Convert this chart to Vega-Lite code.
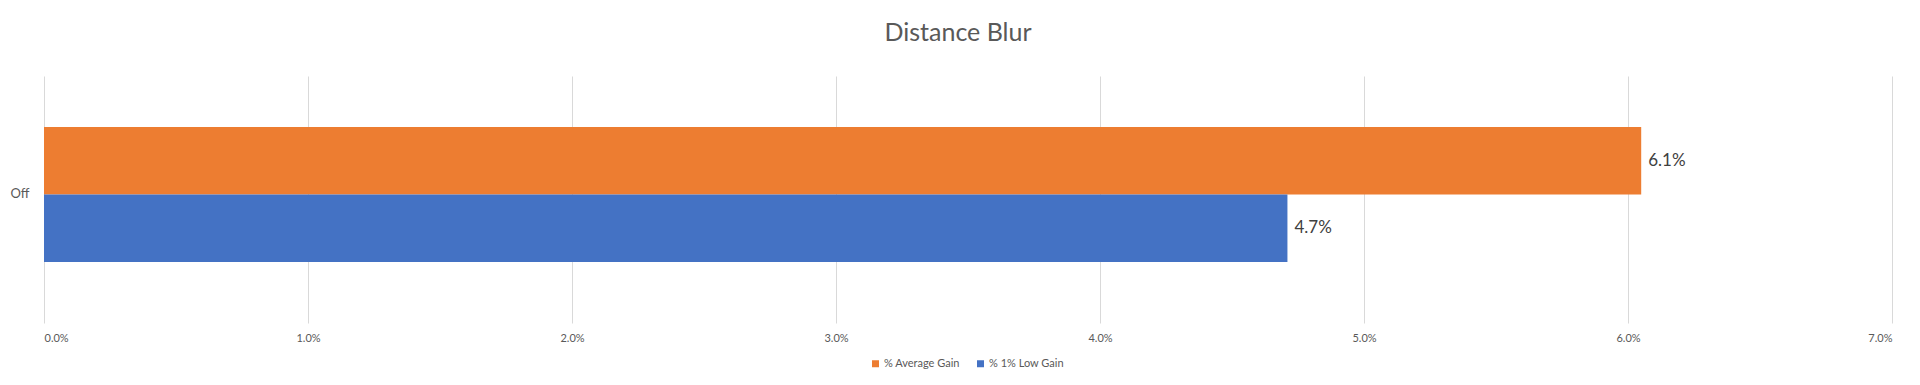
{
  "$schema": "https://vega.github.io/schema/vega-lite/v6.json",
  "width": 1848,
  "height": 247,
  "autosize": "none",
  "padding": {"left": 44, "top": 76, "right": 28, "bottom": 62},
  "background": "white",
  "config": {
    "font": "Lato",
    "view": {"stroke": null}
  },
  "title": {
    "text": "Distance Blur",
    "font": "Lato",
    "fontSize": 25,
    "fontWeight": "normal",
    "color": "#595959",
    "anchor": "middle",
    "offset": 30,
    "dx": -10
  },
  "data": {
    "values": [
      {"cat": "Off", "series": "% Average Gain", "value": 0.0605, "label": "6.1%"},
      {"cat": "Off", "series": "% 1% Low Gain", "value": 0.0471, "label": "4.7%"}
    ]
  },
  "encoding": {
    "y": {
      "field": "cat",
      "type": "nominal",
      "title": null,
      "scale": {"paddingInner": 0, "paddingOuter": 0.4148, "align": 0.455},
      "axis": {
        "domain": false,
        "ticks": false,
        "grid": false,
        "labelFontSize": 13,
        "labelColor": "#595959",
        "labelPadding": 15
      }
    },
    "yOffset": {
      "field": "series",
      "type": "nominal",
      "sort": ["% Average Gain", "% 1% Low Gain"],
      "scale": {"paddingInner": 0, "paddingOuter": 0}
    },
    "x": {
      "field": "value",
      "type": "quantitative",
      "scale": {"domain": [0, 0.07], "nice": false},
      "axis": {
        "values": [0, 0.01, 0.02, 0.03, 0.04, 0.05, 0.06, 0.07],
        "format": ".1%",
        "title": null,
        "domain": false,
        "ticks": false,
        "grid": true,
        "gridColor": "#d9d9d9",
        "gridWidth": 1,
        "labelFontSize": 11,
        "labelColor": "#595959",
        "labelPadding": 9
      }
    }
  },
  "layer": [
    {
      "mark": {"type": "bar"},
      "encoding": {
        "color": {
          "field": "series",
          "type": "nominal",
          "sort": ["% Average Gain", "% 1% Low Gain"],
          "scale": {"range": ["#ED7D31", "#4472C4"]},
          "legend": {
            "orient": "none",
            "legendX": 826,
            "legendY": 282,
            "direction": "horizontal",
            "title": null,
            "symbolType": "square",
            "symbolSize": 49,
            "symbolStrokeWidth": 0,
            "labelFontSize": 11,
            "labelColor": "#595959",
            "labelOffset": 3,
            "columnPadding": 15,
            "padding": 0
          }
        }
      }
    },
    {
      "mark": {"type": "text", "align": "left", "baseline": "middle", "dx": 7, "fontSize": 17, "color": "#404040"},
      "encoding": {
        "text": {"field": "label"}
      }
    }
  ]
}
